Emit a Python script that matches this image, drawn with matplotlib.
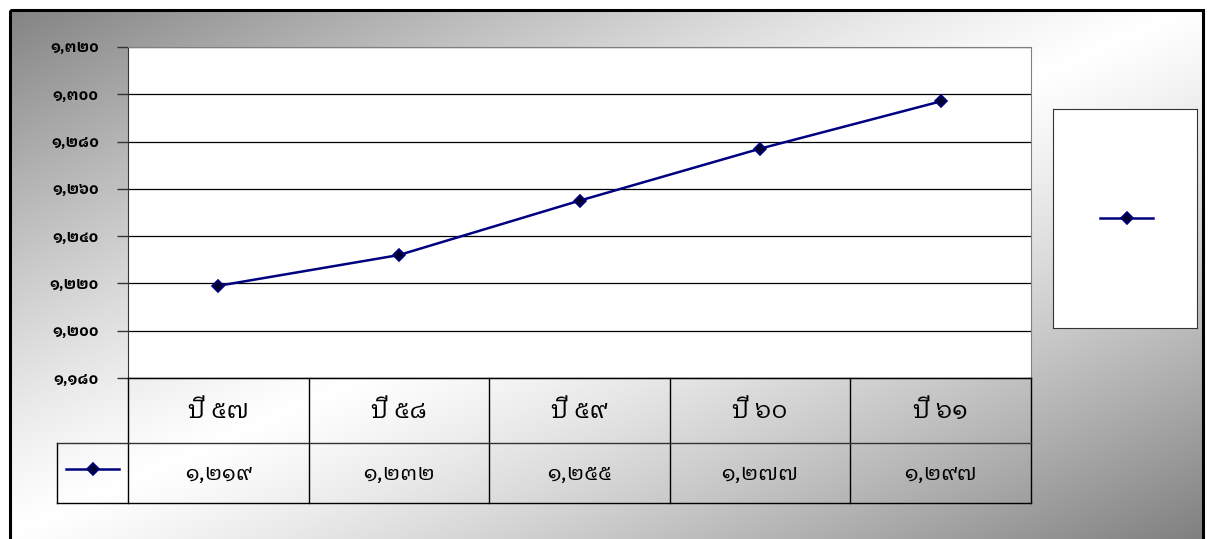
import numpy as np
import matplotlib
matplotlib.use('Agg')
from matplotlib import pyplot as plt
from matplotlib import font_manager
from matplotlib.patches import Rectangle
from matplotlib.lines import Line2D
from matplotlib.ticker import FuncFormatter

years = ['ปี ๕๗', 'ปี ๕๘', 'ปี ๕๙', 'ปี ๖๐', 'ปี ๖๑']
values = [1219, 1232, 1255, 1277, 1297]
y_ticks = [1180, 1200, 1220, 1240, 1260, 1280, 1300, 1320]

W, H = 1208, 539
NAVY = '#000080'
THAI_DIGITS = str.maketrans('0123456789', '๐๑๒๓๔๕๖๗๘๙')


def pick_family(wanted):
    have = {fe.name for fe in font_manager.fontManager.ttflist}
    for name in wanted:
        if name in have:
            return name
    return 'DejaVu Sans'


def thai_num(v):
    return '{:,}'.format(int(round(v))).translate(THAI_DIGITS)


def px(x0, y0, x1, y1):
    # pixel box (top-left origin) -> figure rect
    return [x0 / W, 1 - y1 / H, (x1 - x0) / W, (y1 - y0) / H]


thai = pick_family(['IBM Plex Sans Thai Looped', 'Anuphan', 'K2D', 'Loma'])
plt.rcParams['font.family'] = [thai, 'DejaVu Sans']

fig = plt.figure(figsize=(W / 100, H / 100), dpi=100)

# diagonal gradient background: gray corners, white across the middle
bg = fig.add_axes([0, 0, 1, 1], zorder=-10)
gx, gy = np.meshgrid(np.linspace(0, 1, 400), np.linspace(0, 1, 200))
t = (gx + gy) / 2
g = 1 - 0.5 * np.abs(2 * t - 1) ** 1.2
bg.imshow(np.dstack([g, g, g]), extent=[0, W, H, 0], aspect='auto')
bg.add_patch(Rectangle((0, 0), W, 9, color='white'))
bg.add_patch(Rectangle((0, 0), 9, H, color='white'))
bg.add_patch(Rectangle((1204, 0), 10, H, color='white'))
bg.add_patch(Rectangle((9.5, 9.5), 1193, 540, fill=False, ec='black', lw=2.2))
bg.set_xlim(0, W)
bg.set_ylim(H, 0)
bg.axis('off')

# main plot
ax = fig.add_axes(px(128, 47, 1031, 378))
x = np.arange(len(values))
ax.plot(x, values, color=NAVY, lw=1.8, marker='D', ms=6.5,
        mfc='#000030', mec=NAVY, mew=1.2, zorder=5)
ax.set_xlim(-0.5, len(values) - 0.5)
ax.set_ylim(y_ticks[0], y_ticks[-1])
ax.set_yticks(y_ticks)
ax.yaxis.set_major_formatter(FuncFormatter(lambda v, p: thai_num(v)))
for lab in ax.get_yticklabels():
    lab.set_fontweight('bold')
    lab.set_fontsize(11)
ax.tick_params(axis='y', length=8, width=1, pad=13, color='#333333')
ax.set_xticks([])
ax.grid(axis='y', color='black', lw=0.9)
ax.set_facecolor('white')
for s in ['top', 'right']:
    ax.spines[s].set_color('#808080')
ax.spines['left'].set_color('#333333')
ax.spines['bottom'].set_color('#333333')

# data table under the plot
tb = fig.add_axes(px(57, 378, 1031, 503))
cw = (1031 - 128) / len(values)
left = -0.5 - 71 / cw
tb.set_xlim(left, len(values) - 0.5)
tb.set_ylim(125, 0)
tb.axis('off')
tb.patch.set_alpha(0)
lk = dict(color='black', lw=1, clip_on=False)
for i in range(len(values) + 1):
    tb.plot([i - 0.5, i - 0.5], [0, 125], **lk)
tb.plot([left, left], [65, 125], **lk)
tb.plot([-0.5, len(values) - 0.5], [0, 0], **lk)
tb.plot([left, len(values) - 0.5], [65, 65], color='#333333', lw=1, clip_on=False)
tb.plot([left, len(values) - 0.5], [125, 125], **lk)
for i, (yr, v) in enumerate(zip(years, values)):
    tb.text(i, 33, yr, ha='center', va='center', fontsize=18)
    tb.text(i, 96, thai_num(v), ha='center', va='center', fontsize=16)
kx = (left - 0.5) / 2
tb.add_line(Line2D([kx - 0.147, kx + 0.147], [91, 91], color=NAVY, lw=1.8, clip_on=False))
tb.plot([kx], [91], marker='D', ms=6.5, mfc='#000030', mec=NAVY, mew=1.2, clip_on=False)

# legend box on the right
lg = fig.add_axes(px(1053, 109, 1197, 328))
lg.set_xlim(1053, 1197)
lg.set_ylim(328, 109)
lg.set_xticks([])
lg.set_yticks([])
lg.set_facecolor('white')
for s in lg.spines.values():
    s.set_color('#333333')
lg.plot([1100, 1153], [218, 218], color=NAVY, lw=1.8)
lg.plot([1127], [218], marker='D', ms=6.5, mfc='#000030', mec=NAVY, mew=1.2)

fig.savefig('out.png', dpi=100)
